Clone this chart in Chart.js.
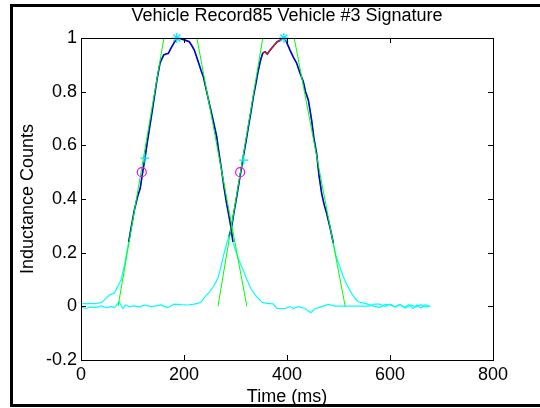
<!DOCTYPE html>
<html>
<head>
<meta charset="utf-8">
<script src="https://cdn.jsdelivr.net/npm/chart.js@4.4.1/dist/chart.umd.min.js"></script>
<style>
  body { margin: 0; background: #fff; }
  canvas { display: block; }
</style>
</head>
<body>
<canvas id="sigChart" width="540" height="408"></canvas>
<script>
// axis ticks
const xTickValues = [0, 200, 400, 600, 800];
const xTickLabels = ['0', '200', '400', '600', '800'];
const yTickValues = [-0.2, 0, 0.2, 0.4, 0.6, 0.8, 1];
const yTickLabels = ['-0.2', '0', '0.2', '0.4', '0.6', '0.8', '1'];

// vehicle 1 signal (ms, counts)
const v1Time = [0, 10, 20, 30, 40, 45, 55, 65, 71, 78, 85, 92.6, 97, 103.6, 110, 115, 118.4, 124, 129.4, 136,
  142.4, 148, 153.4, 160.5, 165, 169.6, 174.8, 180, 184.5, 187.7, 194, 200.6, 210.3, 215, 220, 227, 233, 237.5,
  244, 250.5, 257, 263.5, 268, 273, 278, 283, 287, 291, 295, 302, 308, 315, 321, 328, 336, 344, 352, 360, 373,
  380, 396, 406, 412, 422, 435, 446, 454, 467, 480, 493, 516, 545, 560, 570, 580, 590, 600, 610, 620, 630,
  640, 650, 660, 668, 678];
const v1Count = [0.01, 0.01, 0.01, 0.01, 0.015, 0.023, 0.042, 0.05, 0.073, 0.098, 0.16, 0.24, 0.29, 0.359, 0.41, 0.44, 0.483, 0.55, 0.62, 0.70,
  0.78, 0.85, 0.906, 0.937, 0.94, 0.943, 0.962, 0.98, 0.993, 1.0, 0.997, 0.993, 0.986, 0.972, 0.955, 0.915, 0.88, 0.856,
  0.80, 0.744, 0.69, 0.632, 0.57, 0.508, 0.44, 0.38, 0.34, 0.297, 0.24, 0.197, 0.165, 0.135, 0.105, 0.073, 0.048, 0.03, 0.015, 0.011, 0.009,
  -0.008, -0.008, -0.001, -0.008, -0.001, -0.008, -0.024, -0.01, -0.001, 0.007, 0.001, 0.001, 0.001, 0.001, 0.008, 0.008, 0.0, 0.008, -0.002, 0.006, -0.006,
  0.005, -0.003, 0.006, -0.002, 0.0];

// vehicle 2 signal (ms, counts)
const v2Time = [0, 10, 19, 29, 39, 49, 58, 65, 74, 81, 87, 94, 104, 114, 123, 136, 146, 155, 168, 181, 195, 207,
  220, 228, 233, 240.8, 248, 257, 262, 266.6, 272, 276.3, 282.9, 287.5, 292.6, 297, 302.3, 308.7, 315.2, 320, 325,
  330, 334.6, 340, 344.3, 349, 352.8, 357.3, 361.8, 366, 370.2, 376, 381.2, 385, 389.6, 394, 398, 405.8, 412,
  418.8, 425.2, 431.7, 436, 441.4, 447.8, 452, 457.5, 462, 467.3, 472, 477, 484, 490, 495, 500, 509.4, 517,
  525.6, 532, 538.5, 554.6, 567.6, 580, 590, 600, 610, 618, 628, 636, 645, 652, 660, 668, 678];
const v2Count = [-0.002, -0.008, -0.002, -0.005, 0.002, -0.005, -0.001, -0.005, 0.017, -0.008, 0.005, -0.001, 0.002, -0.003, 0.005, -0.001, 0.002, 0.005, -0.005, 0.008, 0.006, 0.005,
  0.008, 0.012, 0.015, 0.036, 0.05, 0.073, 0.09, 0.11, 0.15, 0.185, 0.235, 0.26, 0.297, 0.35, 0.408, 0.483, 0.558, 0.61, 0.669,
  0.725, 0.78, 0.835, 0.88, 0.92, 0.943, 0.949, 0.94, 0.952, 0.962, 0.975, 0.986, 0.99, 0.995, 1.0, 0.99, 0.955, 0.93,
  0.906, 0.87, 0.837, 0.80, 0.769, 0.694, 0.63, 0.57, 0.49, 0.421, 0.38, 0.347, 0.29, 0.235, 0.19, 0.16, 0.11, 0.078,
  0.048, 0.03, 0.017, 0.009, 0.001, -0.004, 0.006, 0.006, -0.003, 0.007, -0.004, 0.006, -0.008, 0.005, -0.006, 0.006, -0.001];

// highlighted portions of the signals (ms)
const blueSpan1 = [92.6, 295];
const blueSpan2 = [287.5, 490];
const redSpan2 = [352.8, 394];

// fitted edge lines: [time at start, time at end], counts
const riseFit1Time = [72, 161];
const fallFit1Time = [225, 322];
const riseFit2Time = [266, 353];
const fallFit2Time = [414, 513];
const riseLevels = [0, 1];
const fallLevels = [1, 0];

// markers
const peakTime = [186, 394];
const peakCount = [1, 1];
const halfTime = [118, 309];
const halfCount = [0.5, 0.5];
const plusTime = [124, 316];
const plusCount = [0.552, 0.545];

function toPoints(ts, ys) {
    return ts.map((t, i) => ({ x: t, y: ys[i] }));
}
function span(ts, ys, range) {
    return toPoints(ts, ys).filter(p => p.x >= range[0] && p.x <= range[1]);
}

function lineSet(data, color, width) {
    return { data: data, borderColor: color, borderWidth: width, showLine: true, pointRadius: 0, fill: false };
}
function markerSet(data, style, color, radius) {
    return {
        data: data, showLine: false, pointStyle: style, pointRadius: radius,
        borderColor: color, backgroundColor: 'rgba(0,0,0,0)', pointBorderWidth: 1.2, clip: false
    };
}

const boxPlugin = {
    id: 'boxPlugin',
    afterDraw(chart) {
        const { ctx, chartArea: a, scales: { x, y } } = chart;
        ctx.save();
        ctx.strokeStyle = '#000';
        ctx.lineWidth = 1;
        ctx.strokeRect(a.left + 0.5, a.top + 0.5, a.right - a.left, a.bottom - a.top);
        ctx.beginPath();
        xTickValues.forEach(v => {
            const px = Math.round(x.getPixelForValue(v)) + 0.5;
            ctx.moveTo(px, a.bottom); ctx.lineTo(px, a.bottom - 5);
            ctx.moveTo(px, a.top); ctx.lineTo(px, a.top + 5);
        });
        yTickValues.forEach(v => {
            const py = Math.round(y.getPixelForValue(v)) + 0.5;
            ctx.moveTo(a.left, py); ctx.lineTo(a.left + 5, py);
            ctx.moveTo(a.right, py); ctx.lineTo(a.right - 5, py);
        });
        ctx.stroke();
        // outer frame
        ctx.lineWidth = 3;
        ctx.beginPath();
        ctx.moveTo(10, 5.5); ctx.lineTo(540, 5.5);
        ctx.moveTo(11.5, 4); ctx.lineTo(11.5, 407);
        ctx.moveTo(10, 405.5); ctx.lineTo(540, 405.5);
        ctx.stroke();
        ctx.restore();
    }
};

Chart.defaults.font.family = "'Liberation Sans', Arial, sans-serif";
Chart.defaults.color = '#000';

const ctx = document.getElementById('sigChart').getContext('2d');
const sigChart = new Chart(ctx, {
    type: 'scatter',
    data: {
        datasets: [
            markerSet(toPoints(peakTime, peakCount), 'star', '#00e5ff', 5),
            markerSet(toPoints(halfTime, halfCount), 'circle', '#ff00ff', 4.5),
            markerSet(toPoints(plusTime, plusCount), 'cross', '#00e5ff', 4.5),
            lineSet(toPoints(riseFit1Time, riseLevels), '#00ff00', 1),
            lineSet(toPoints(fallFit1Time, fallLevels), '#00ff00', 1),
            lineSet(toPoints(riseFit2Time, riseLevels), '#00ff00', 1),
            lineSet(toPoints(fallFit2Time, fallLevels), '#00ff00', 1),
            lineSet(span(v2Time, v2Count, redSpan2), '#d02020', 1.3),
            lineSet(span(v1Time, v1Count, blueSpan1), '#0000d8', 1.6),
            lineSet(span(v2Time, v2Count, blueSpan2), '#0000d8', 1.6),
            lineSet(toPoints(v1Time, v1Count), '#00ffff', 1.2),
            lineSet(toPoints(v2Time, v2Count), '#00ffff', 1.2)
        ]
    },
    options: {
        responsive: false,
        animation: false,
        layout: { padding: { left: 0, top: 0, right: 47, bottom: 0 } },
        plugins: {
            legend: { display: false },
            tooltip: { enabled: false },
            title: {
                display: true,
                text: 'Vehicle Record85 Vehicle #3 Signature',
                fullSize: false,
                font: { size: 18, weight: 'normal' },
                padding: { top: 5, bottom: 11.4 }
            }
        },
        scales: {
            x: {
                type: 'linear',
                min: 0,
                max: 800,
                afterBuildTicks: s => { s.ticks = xTickValues.map(v => ({ value: v })); },
                afterFit: s => { s.height = 48; },
                grid: { display: false, drawTicks: false },
                border: { display: false },
                ticks: {
                    autoSkip: false,
                    maxRotation: 0,
                    padding: 4,
                    font: { size: 18 },
                    callback: (v, i) => xTickLabels[i]
                },
                title: { display: true, text: 'Time (ms)', font: { size: 18 }, padding: { top: 0, bottom: 0 } }
            },
            y: {
                type: 'linear',
                min: -0.2,
                max: 1,
                afterBuildTicks: s => { s.ticks = yTickValues.map(v => ({ value: v })); },
                afterFit: s => { s.width = 81; },
                grid: { display: false, drawTicks: false },
                border: { display: false },
                ticks: {
                    autoSkip: false,
                    padding: 4,
                    font: { size: 18 },
                    callback: (v, i) => yTickLabels[i]
                },
                title: { display: true, text: 'Inductance Counts', font: { size: 18 }, padding: { top: 17, bottom: 0 } }
            }
        }
    },
    plugins: [boxPlugin]
});
</script>
</body>
</html>
